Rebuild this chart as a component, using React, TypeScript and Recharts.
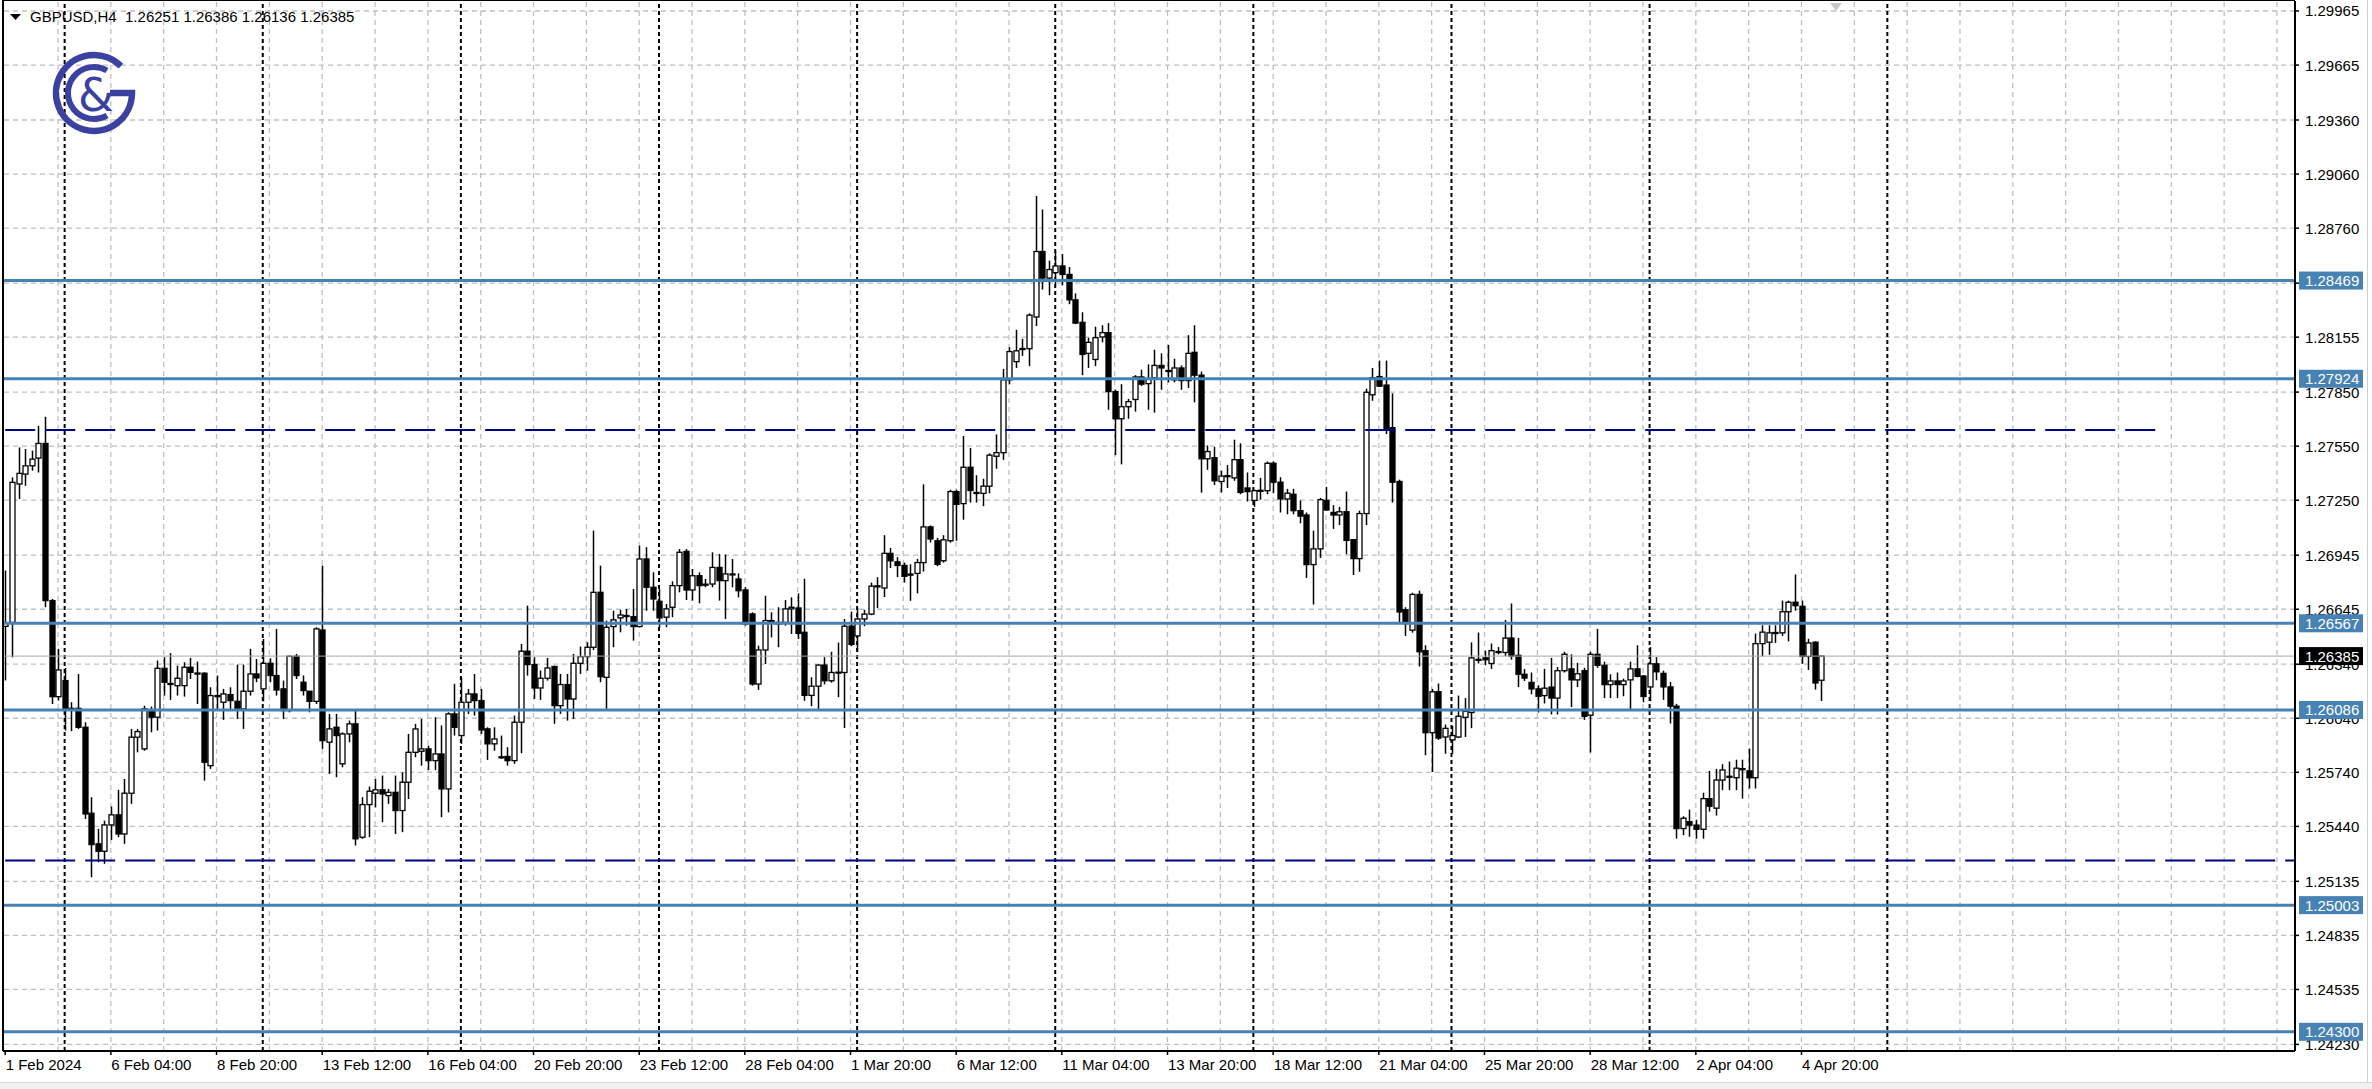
import React from 'react';
import { ComposedChart, Bar, XAxis, YAxis, ReferenceLine } from 'recharts';

// ---- GBPUSD H4 candles (index 0 = 1 Feb 2024 12:00) ----
const opens = [
  1.2655, 1.26572, 1.2734, 1.27395, 1.27441, 1.27484, 1.27565, 1.26693, 1.2616, 1.26249,
  1.26095, 1.26095, 1.2599, 1.25513, 1.25343, 1.25302, 1.25448, 1.25504, 1.25398, 1.25624,
  1.25935, 1.2587, 1.26086, 1.26046, 1.26317, 1.26231, 1.26221, 1.26221, 1.26323, 1.26291,
  1.2629, 1.25777, 1.26166, 1.26129, 1.26171, 1.26134, 1.26092, 1.2619, 1.26286, 1.26203,
  1.26345, 1.26277, 1.26203, 1.26083, 1.26384, 1.2624, 1.2619, 1.26134, 1.2653, 1.25907,
  1.2599, 1.25787, 1.25953, 1.26009, 1.2538, 1.25561, 1.25624, 1.25643, 1.25611, 1.25629,
  1.25528, 1.25685, 1.25851, 1.25857, 1.2587, 1.25805, 1.25842, 1.25648, 1.26064, 1.25944,
  1.26129, 1.26175, 1.26138, 1.25981, 1.25898, 1.25824, 1.25828, 1.25805, 1.26018, 1.26412,
  1.26338, 1.26208, 1.26262, 1.26327, 1.2611, 1.26227, 1.26147, 1.26345, 1.26382, 1.26434,
  1.26739, 1.26267, 1.26549, 1.26597, 1.2661, 1.26604, 1.26549, 1.26924, 1.26767, 1.26689,
  1.26601, 1.26656, 1.26776, 1.26966, 1.26752, 1.26831, 1.2678, 1.26785, 1.26877, 1.26804,
  1.26841, 1.26813, 1.26752, 1.26619, 1.2623, 1.26419, 1.26582, 1.26563, 1.26572, 1.26647,
  1.26652, 1.26517, 1.26167, 1.26218, 1.26335, 1.26248, 1.26294, 1.26294, 1.26551, 1.26497,
  1.26591, 1.26618, 1.26773, 1.26763, 1.26955, 1.26908, 1.26888, 1.2684, 1.26844, 1.26904,
  1.27102, 1.27025, 1.26914, 1.27025, 1.27298, 1.27231, 1.27433, 1.27293, 1.27288, 1.27328,
  1.27494, 1.27514, 1.27918, 1.28019, 1.28092, 1.28091, 1.28267, 1.2863, 1.28483, 1.28513,
  1.2855, 1.28503, 1.28362, 1.28237, 1.28065, 1.28031, 1.28156, 1.2818, 1.27853, 1.27702,
  1.27769, 1.27809, 1.27934, 1.27897, 1.2793, 1.27998, 1.27968, 1.27918, 1.27984, 1.27914,
  1.28071, 1.27944, 1.2748, 1.27486, 1.27354, 1.27384, 1.27374, 1.27475, 1.27318, 1.27249,
  1.27303, 1.27303, 1.27455, 1.2735, 1.27257, 1.27283, 1.27192, 1.27168, 1.26893, 1.2698,
  1.27249, 1.27182, 1.27168, 1.27186, 1.27031, 1.26926, 1.27176, 1.27835, 1.27936, 1.27889,
  1.27653, 1.27354, 1.26642, 1.26529, 1.26727, 1.26415, 1.2596, 1.26187, 1.25936, 1.2592,
  1.25936, 1.26045, 1.26072, 1.26365, 1.26375, 1.26344, 1.2641, 1.26405, 1.26485, 1.26389,
  1.26284, 1.26239, 1.26203, 1.26166, 1.26213, 1.26152, 1.26304, 1.26314, 1.26253, 1.26304,
  1.26057, 1.26395, 1.26334, 1.26227, 1.26247, 1.26227, 1.26253, 1.26314, 1.26274, 1.26214,
  1.26342, 1.26289, 1.26214, 1.26107, 1.25428, 1.25466, 1.25447, 1.25424, 1.25594, 1.25541,
  1.25697, 1.25716, 1.2571, 1.2576, 1.25748, 1.2571, 1.26454, 1.26462, 1.26514, 1.26514,
  1.26631, 1.26684, 1.26661, 1.26383, 1.26462, 1.26251,
];
const highs = [
  1.2686, 1.27377, 1.27543, 1.27534, 1.27525, 1.27663, 1.27713, 1.26702, 1.26425, 1.26319,
  1.26129, 1.26286, 1.26018, 1.25602, 1.25426, 1.25472, 1.2555, 1.25643, 1.25703, 1.25981,
  1.25981, 1.2611, 1.26105, 1.2636, 1.26379, 1.26401, 1.26332, 1.26351, 1.26375, 1.26354,
  1.26295, 1.26212, 1.26277, 1.26203, 1.26212, 1.26338, 1.26338, 1.26425, 1.26369, 1.2648,
  1.26373, 1.26536, 1.26249, 1.26388, 1.26397, 1.26277, 1.2619, 1.26545, 1.26887, 1.26064,
  1.26064, 1.25962, 1.26027, 1.26092, 1.25602, 1.25661, 1.25703, 1.25722, 1.25648, 1.25722,
  1.2574, 1.25953, 1.26009, 1.26036, 1.25888, 1.26046, 1.26, 1.26073, 1.26231, 1.26267,
  1.26203, 1.26286, 1.26203, 1.2599, 1.2599, 1.25944, 1.25879, 1.26055, 1.26452, 1.26665,
  1.26379, 1.26305, 1.26375, 1.26332, 1.26286, 1.26286, 1.26397, 1.26438, 1.26462, 1.27081,
  1.26887, 1.26582, 1.26637, 1.26641, 1.26646, 1.26757, 1.26998, 1.26989, 1.2685, 1.26757,
  1.26674, 1.268, 1.26979, 1.26979, 1.26868, 1.2685, 1.26813, 1.26961, 1.26952, 1.26948,
  1.26924, 1.26844, 1.26767, 1.26628, 1.26443, 1.2672, 1.26628, 1.26656, 1.26696, 1.26711,
  1.26733, 1.26814, 1.26268, 1.26339, 1.26379, 1.26409, 1.2646, 1.26591, 1.26632, 1.26652,
  1.26642, 1.26793, 1.26823, 1.27056, 1.26985, 1.26934, 1.26904, 1.26894, 1.26924, 1.27338,
  1.2711, 1.27041, 1.27056, 1.27308, 1.27308, 1.27607, 1.2754, 1.27389, 1.27369, 1.2751,
  1.27615, 1.27979, 1.28099, 1.28196, 1.28146, 1.28287, 1.28939, 1.28863, 1.2858, 1.2863,
  1.28616, 1.28544, 1.28398, 1.28293, 1.28152, 1.28213, 1.28221, 1.28233, 1.27863, 1.27894,
  1.27813, 1.27944, 1.27974, 1.28004, 1.28085, 1.28065, 1.28112, 1.28035, 1.27998, 1.28166,
  1.28221, 1.27964, 1.27554, 1.27546, 1.27414, 1.27445, 1.27586, 1.27566, 1.27404, 1.27309,
  1.27374, 1.27465, 1.27465, 1.27378, 1.27313, 1.27313, 1.27249, 1.27182, 1.27081, 1.27263,
  1.27324, 1.27223, 1.27213, 1.27298, 1.27035, 1.27192, 1.27869, 1.27984, 1.28025, 1.28025,
  1.27843, 1.27364, 1.26656, 1.26737, 1.26748, 1.26445, 1.26203, 1.26233, 1.26005, 1.25997,
  1.26166, 1.26152, 1.26461, 1.26516, 1.26415, 1.26455, 1.26435, 1.26586, 1.26677, 1.26485,
  1.26314, 1.26294, 1.26223, 1.26314, 1.26375, 1.26324, 1.26409, 1.26395, 1.26348, 1.2632,
  1.26409, 1.26536, 1.26354, 1.26284, 1.26294, 1.2626, 1.26354, 1.26445, 1.2628, 1.26435,
  1.26379, 1.26304, 1.26242, 1.2612, 1.25496, 1.25533, 1.25477, 1.25627, 1.25748, 1.25759,
  1.25785, 1.258, 1.2581, 1.2581, 1.25872, 1.2651, 1.26556, 1.26556, 1.26556, 1.26693,
  1.26693, 1.26838, 1.26693, 1.26481, 1.26467, 1.26386,
];
const lows = [
  1.2625, 1.26378, 1.27257, 1.2733, 1.27414, 1.27404, 1.26656, 1.26119, 1.26138, 1.25972,
  1.25968, 1.25981, 1.25481, 1.25158, 1.25241, 1.25232, 1.25365, 1.2538, 1.25343, 1.25565,
  1.25851, 1.2586, 1.25962, 1.25972, 1.26166, 1.26142, 1.26166, 1.2616, 1.26258, 1.26119,
  1.25694, 1.25759, 1.26083, 1.26031, 1.26083, 1.26036, 1.25981, 1.26166, 1.2624, 1.26134,
  1.2624, 1.26166, 1.26036, 1.26073, 1.26258, 1.26166, 1.26073, 1.26119, 1.2587, 1.25731,
  1.25713, 1.25768, 1.25907, 1.25334, 1.25371, 1.2538, 1.25546, 1.25463, 1.25565, 1.25398,
  1.25408, 1.25592, 1.25824, 1.25777, 1.25753, 1.25753, 1.25491, 1.25518, 1.25944, 1.25898,
  1.26064, 1.26055, 1.25953, 1.25809, 1.2586, 1.25815, 1.25777, 1.25787, 1.25846, 1.26277,
  1.26147, 1.26142, 1.26249, 1.26009, 1.26064, 1.26027, 1.26036, 1.26286, 1.26304, 1.26419,
  1.2624, 1.26092, 1.26434, 1.26517, 1.26554, 1.26471, 1.26545, 1.26637, 1.26637, 1.26541,
  1.26545, 1.26601, 1.26739, 1.26696, 1.26693, 1.26678, 1.26767, 1.26767, 1.26693, 1.26591,
  1.26767, 1.26711, 1.26554, 1.26221, 1.26197, 1.26341, 1.26489, 1.26434, 1.26554, 1.26508,
  1.2648, 1.26137, 1.26107, 1.26087, 1.26228, 1.26238, 1.26157, 1.25986, 1.2644, 1.26409,
  1.26551, 1.26612, 1.26652, 1.26713, 1.26874, 1.26823, 1.26793, 1.26692, 1.26733, 1.26854,
  1.27015, 1.26884, 1.26904, 1.27015, 1.27025, 1.27142, 1.27237, 1.27237, 1.27217, 1.27288,
  1.27425, 1.27474, 1.27894, 1.27984, 1.28051, 1.27994, 1.28217, 1.28419, 1.28388, 1.28449,
  1.28443, 1.28338, 1.28227, 1.27944, 1.27984, 1.27994, 1.28126, 1.27752, 1.275, 1.27449,
  1.27702, 1.27742, 1.27883, 1.27752, 1.27736, 1.27863, 1.27904, 1.27904, 1.27863, 1.27873,
  1.27793, 1.27292, 1.27419, 1.27334, 1.27293, 1.27318, 1.27358, 1.27283, 1.27243, 1.27213,
  1.27253, 1.27283, 1.27289, 1.27182, 1.27172, 1.27172, 1.27122, 1.26819, 1.26671, 1.2693,
  1.27192, 1.27091, 1.27112, 1.2695, 1.26835, 1.26853, 1.27112, 1.27802, 1.27879, 1.27617,
  1.27237, 1.26569, 1.26496, 1.26515, 1.26327, 1.25835, 1.25742, 1.2592, 1.25843, 1.25843,
  1.2593, 1.25936, 1.25985, 1.26344, 1.26334, 1.26314, 1.26395, 1.26385, 1.26365, 1.26213,
  1.26247, 1.26173, 1.26072, 1.26122, 1.26061, 1.26061, 1.26294, 1.26102, 1.26213, 1.26031,
  1.2585, 1.2632, 1.26152, 1.26152, 1.26152, 1.26162, 1.26085, 1.26267, 1.26129, 1.26135,
  1.26251, 1.26142, 1.26011, 1.25372, 1.25391, 1.25383, 1.25372, 1.25372, 1.25522, 1.255,
  1.25641, 1.25641, 1.25641, 1.25594, 1.2565, 1.2565, 1.26383, 1.26392, 1.26458, 1.26496,
  1.26467, 1.26637, 1.26342, 1.26308, 1.26199, 1.26136,
];
const closes = [
  1.2657, 1.27349, 1.27399, 1.27441, 1.27478, 1.27565, 1.26693, 1.2616, 1.26308, 1.26092,
  1.2609, 1.2599, 1.25509, 1.25339, 1.25302, 1.25448, 1.25504, 1.25398, 1.25624, 1.25935,
  1.25966, 1.26092, 1.26046, 1.26317, 1.2624, 1.26233, 1.26262, 1.26323, 1.26295, 1.26289,
  1.25796, 1.26166, 1.2616, 1.26175, 1.26138, 1.26092, 1.2619, 1.26286, 1.26264, 1.26345,
  1.26277, 1.26197, 1.26083, 1.26384, 1.26277, 1.26194, 1.26134, 1.26536, 1.25916, 1.25981,
  1.25944, 1.25953, 1.26009, 1.25371, 1.25561, 1.25635, 1.25643, 1.2562, 1.25629, 1.25528,
  1.25685, 1.25851, 1.25981, 1.2587, 1.25805, 1.25842, 1.25648, 1.26064, 1.2599, 1.26129,
  1.26175, 1.26138, 1.25975, 1.25898, 1.25925, 1.25826, 1.25805, 1.26018, 1.26412, 1.26338,
  1.26208, 1.26262, 1.26319, 1.2611, 1.26227, 1.26147, 1.26345, 1.26382, 1.26434, 1.26739,
  1.26271, 1.26545, 1.26586, 1.26613, 1.26606, 1.26549, 1.26924, 1.26767, 1.26702, 1.26597,
  1.26647, 1.26776, 1.26961, 1.26752, 1.26831, 1.26776, 1.26784, 1.26877, 1.26804, 1.26841,
  1.26837, 1.26748, 1.26563, 1.2623, 1.26419, 1.26582, 1.26567, 1.26572, 1.26647, 1.26656,
  1.26511, 1.26167, 1.26218, 1.26335, 1.26248, 1.26294, 1.26296, 1.26551, 1.2645, 1.26591,
  1.26618, 1.26773, 1.26775, 1.26955, 1.26914, 1.26888, 1.26828, 1.26838, 1.26904, 1.27102,
  1.27035, 1.26894, 1.2703, 1.27298, 1.27227, 1.27433, 1.27304, 1.27288, 1.27328, 1.275,
  1.27514, 1.27918, 1.28075, 1.28079, 1.28091, 1.28277, 1.2863, 1.28483, 1.2853, 1.2855,
  1.28503, 1.28362, 1.28233, 1.28059, 1.28126, 1.28152, 1.2818, 1.27853, 1.27702, 1.27769,
  1.27797, 1.27934, 1.27894, 1.27924, 1.27998, 1.27984, 1.2797, 1.27984, 1.27914, 1.28065,
  1.27944, 1.2748, 1.2752, 1.27358, 1.27384, 1.27386, 1.27475, 1.27293, 1.27298, 1.27303,
  1.27305, 1.27455, 1.2735, 1.27257, 1.27289, 1.27192, 1.27162, 1.26893, 1.2698, 1.27253,
  1.27196, 1.27168, 1.27186, 1.27027, 1.26926, 1.27176, 1.27849, 1.2793, 1.27883, 1.27647,
  1.2735, 1.2663, 1.26565, 1.26727, 1.26409, 1.2596, 1.26187, 1.2593, 1.25984, 1.25944,
  1.26051, 1.26078, 1.26375, 1.26367, 1.26365, 1.26415, 1.26409, 1.26485, 1.26385, 1.26284,
  1.26263, 1.26203, 1.26162, 1.26207, 1.26152, 1.26304, 1.26395, 1.26253, 1.26287, 1.26051,
  1.26395, 1.26334, 1.26227, 1.26247, 1.26227, 1.26247, 1.26314, 1.26273, 1.26161, 1.26342,
  1.26298, 1.26214, 1.26107, 1.25428, 1.25485, 1.25447, 1.25424, 1.25594, 1.25552, 1.25697,
  1.25753, 1.25718, 1.25763, 1.25759, 1.2571, 1.26454, 1.26518, 1.26514, 1.26516, 1.26631,
  1.26684, 1.26665, 1.26383, 1.26458, 1.26236, 1.26385,
];

// ---- axes ----
const timeTicks = [0, 16, 32, 48, 64, 80, 96, 112, 128, 144, 160, 176, 192, 208, 224, 240, 256, 272];
const timeLabels = [
  '1 Feb 2024', '6 Feb 04:00', '8 Feb 20:00', '13 Feb 12:00', '16 Feb 04:00', '20 Feb 20:00',
  '23 Feb 12:00', '28 Feb 04:00', '1 Mar 20:00', '6 Mar 12:00', '11 Mar 04:00', '13 Mar 20:00',
  '18 Mar 12:00', '21 Mar 04:00', '25 Mar 20:00', '28 Mar 12:00', '2 Apr 04:00', '4 Apr 20:00',
];
const priceTicks = [
  1.29965, 1.29665, 1.2936, 1.2906, 1.2876, 1.28455, 1.28155, 1.2785, 1.2755, 1.2725,
  1.26945, 1.26645, 1.2634, 1.2604, 1.2574, 1.2544, 1.25135, 1.24835, 1.24535, 1.2423,
];
const gridBars = [
  8, 16, 24, 32, 40, 48, 56, 64, 72, 80, 88, 96, 104, 112, 120, 128, 136, 144, 152, 160, 168,
  176, 184, 192, 200, 208, 216, 224, 232, 240, 248, 256, 264, 272, 280, 288, 296, 304, 312, 320,
  328, 336, 344,
];
const weekStarts = [9, 39, 69, 99, 129, 159, 189, 219, 249, 285];
const xDomain = [-0.3331, 346.73];
const yDomain = [1.241935, 1.300204];

// ---- drawn objects ----
const levels = [1.28469, 1.27924, 1.26567, 1.26086, 1.25003, 1.243];
const upperChannel = 1.2764;
const upperChannelEnd = 326.8;
const lowerChannel = 1.2525;
const lastPrice = 1.26385;
const priceBoxes = [...levels, lastPrice];
const title = 'GBPUSD,H4  1.26251 1.26386 1.26136 1.26385';

const FONT = "'Liberation Sans', Arial, sans-serif";
const LEVEL_BLUE = '#4682B4';
const NAVY = '#000080';

const data = opens.map((o, i) => ({
  i,
  open: o,
  high: highs[i],
  low: lows[i],
  close: closes[i],
  range: [lows[i], highs[i]],
}));

const Candle = (props: any) => {
  const { x, y, width, height, payload } = props;
  if (!payload || x == null || y == null) return null;
  const { open, close, high, low } = payload;
  const top = Math.min(y, y + height);
  const bottom = Math.max(y, y + height);
  const span = high - low;
  const py = (p: number) => (span === 0 ? top : bottom - ((p - low) / span) * (bottom - top));
  const cx = Math.round(x + width / 2) + 0.5;
  const bw = 5;
  const yo = py(open);
  const yc = py(close);
  const bTop = Math.min(yo, yc);
  const bH = Math.max(1, Math.abs(yc - yo));
  const bull = close >= open;
  return (
    <g>
      <line x1={cx} x2={cx} y1={top} y2={bottom} stroke="#000" strokeWidth={1.5} />
      <rect x={cx - bw / 2} y={bTop} width={bw} height={bH} fill={bull ? '#fff' : '#000'} stroke="#000" strokeWidth={1.3} />
    </g>
  );
};

const XTick = (props: any) => {
  const { x, y, payload } = props;
  const k = timeTicks.indexOf(payload.value);
  return (
    <text x={x + 0.5} y={y + 13} fontSize={15} fontFamily={FONT} fill="#000" textAnchor="start">
      {timeLabels[k]}
    </text>
  );
};

const YTick = (props: any) => {
  const { x, y, payload } = props;
  return (
    <text x={x + 4} y={y + 5.5} fontSize={15} fontFamily={FONT} fill="#000" textAnchor="start">
      {Number(payload.value).toFixed(5)}
    </text>
  );
};

// price boxes drawn by a thin outer axis so they sit above the tick labels
const BoxTick = (props: any) => {
  const { x, y, payload } = props;
  const v = Number(payload.value);
  const bg = v === lastPrice ? '#000' : LEVEL_BLUE;
  const xx = x - 72;
  return (
    <g>
      <rect x={xx} y={y - 9} width={64} height={18} fill={bg} />
      <text x={xx + 6} y={y + 5.5} fill="#fff" fontSize={15} fontFamily={FONT}>
        {v.toFixed(5)}
      </text>
    </g>
  );
};

const Logo = () => (
  <svg width={150} height={150} style={{ position: 'absolute', left: 0, top: 0, pointerEvents: 'none' }}>
    <path d="M120.9 66.1 A38 38 0 1 0 132 93 L 110 93" fill="none" stroke="#3b41a0" strokeWidth={6.5} />
    <path d="M107 70.5 A26 26 0 1 0 107 115.5" fill="none" stroke="#3b41a0" strokeWidth={6} />
    <text x={96} y={111} textAnchor="middle" fontSize={46} fontFamily="'DejaVu Sans', sans-serif" fill="#3b41a0">
      &amp;
    </text>
  </svg>
);

export default function App() {
  return (
    <div style={{ position: 'absolute', left: 0, top: 0, width: 2372, height: 1089, background: '#fff', overflow: 'hidden' }}>
      <ComposedChart
        width={2372}
        height={1089}
        data={data}
        margin={{ top: 1, right: 0, bottom: 0, left: 3 }}
      >
        <XAxis
          dataKey="i"
          type="number"
          domain={xDomain}
          allowDataOverflow
          ticks={timeTicks}
          interval={0}
          height={38}
          tickSize={4}
          tick={<XTick />}
          axisLine={{ stroke: '#000', strokeWidth: 2 }}
          tickLine={{ stroke: '#000', strokeWidth: 1.5 }}
        />
        <YAxis
          orientation="right"
          type="number"
          domain={yDomain}
          allowDataOverflow
          ticks={priceTicks}
          interval={0}
          width={76}
          tickSize={4}
          tick={<YTick />}
          axisLine={{ stroke: '#000', strokeWidth: 2 }}
          tickLine={{ stroke: '#000', strokeWidth: 1.5 }}
        />
        <YAxis
          yAxisId="boxes"
          orientation="right"
          type="number"
          domain={yDomain}
          allowDataOverflow
          ticks={priceBoxes}
          interval={0}
          width={1}
          tickSize={0}
          tickMargin={0}
          tick={<BoxTick />}
          axisLine={false}
          tickLine={false}
        />
        {priceTicks.map((p) => (
          <ReferenceLine key={'gh' + p} y={p} stroke="#c0c0c0" strokeWidth={1.3} strokeDasharray="5 4" zIndex={-100} />
        ))}
        {gridBars.map((b) => (
          <ReferenceLine key={'gv' + b} x={b} stroke="#c0c0c0" strokeWidth={1.3} strokeDasharray="5 4" zIndex={-100} />
        ))}
        {weekStarts.map((b) => (
          <ReferenceLine key={'ws' + b} x={b} stroke="#000" strokeWidth={2} strokeDasharray="4 3" zIndex={-90} />
        ))}
        <ReferenceLine y={lastPrice} stroke="#a8a8a8" strokeWidth={1} />
        {levels.map((p) => (
          <ReferenceLine key={'lv' + p} y={p} stroke={LEVEL_BLUE} strokeWidth={3} />
        ))}
        <ReferenceLine
          segment={[{ x: 0, y: upperChannel }, { x: upperChannelEnd, y: upperChannel }]}
          stroke={NAVY}
          strokeWidth={2}
          strokeDasharray="30 10"
        />
        <ReferenceLine
          segment={[{ x: 0, y: lowerChannel }, { x: xDomain[1], y: lowerChannel }]}
          stroke={NAVY}
          strokeWidth={2}
          strokeDasharray="30 10"
        />
        <Bar dataKey="range" barSize={5} shape={<Candle />} isAnimationActive={false} />
      </ComposedChart>

      {/* frame left/top */}
      <div style={{ position: 'absolute', left: 2, top: 0, width: 2293, height: 1051, borderLeft: '2px solid #000', borderTop: '1.5px solid #000', boxSizing: 'border-box', pointerEvents: 'none' }} />
      {/* window edges */}
      <div style={{ position: 'absolute', left: 2367, top: 0, width: 1, height: 1082, background: '#cfcfcf' }} />
      <div style={{ position: 'absolute', left: 0, top: 1082, width: 2372, height: 7, background: '#f0f0f0', borderTop: '1px solid #d8d8d8' }} />

      {/* title */}
      <svg width={24} height={24} style={{ position: 'absolute', left: 0, top: 0 }}>
        <polygon points="10,14 21,14 15.5,20" fill="#000" />
      </svg>
      <div style={{ position: 'absolute', left: 30, top: 8, fontFamily: FONT, fontSize: 15, whiteSpace: 'pre', color: '#000', lineHeight: '18px' }}>
        {title}
      </div>
      <Logo />
      {/* chart shift marker */}
      <svg width={14} height={12} style={{ position: 'absolute', left: 1829, top: 2 }}>
        <polygon points="1,1 13,1 7,9" fill="#c8c8c8" />
      </svg>
    </div>
  );
}
